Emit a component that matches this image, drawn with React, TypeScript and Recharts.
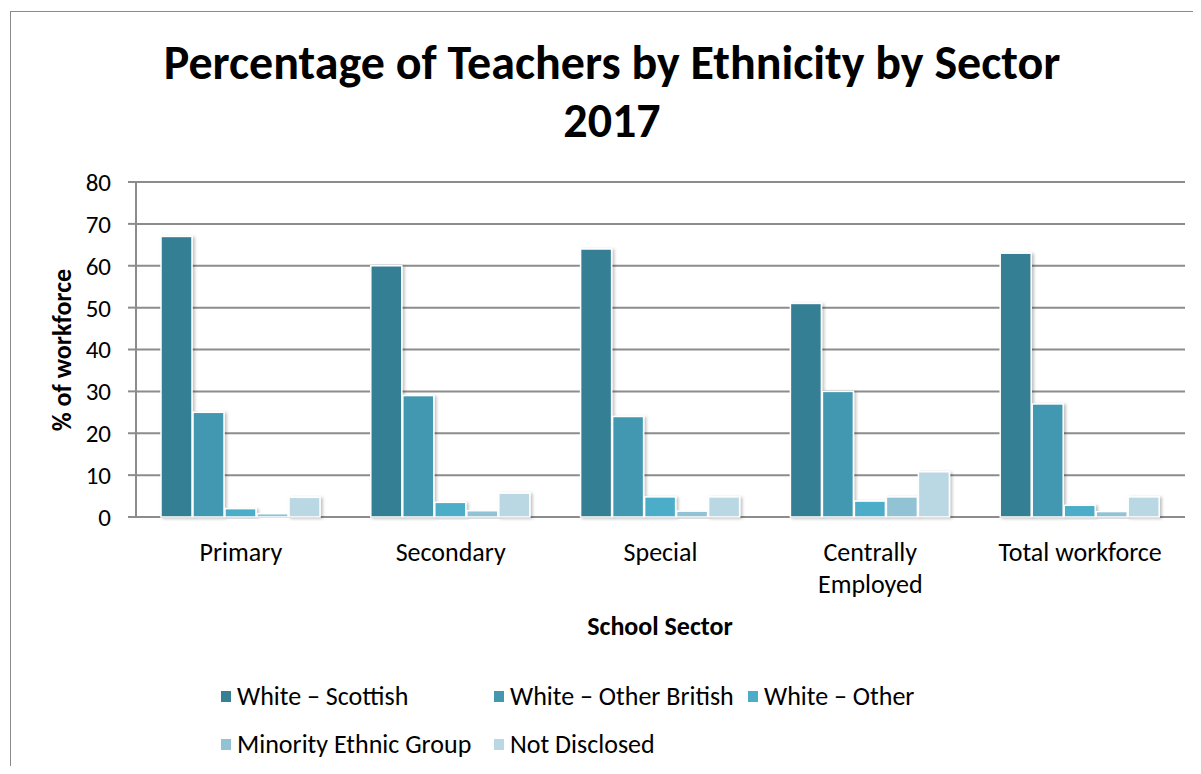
import React from "react";
import { BarChart, Bar, XAxis, YAxis, CartesianGrid } from "recharts";

const sectors = ["Primary", "Secondary", "Special", "Centrally\nEmployed", "Total workforce"];
const seriesNames = ["White – Scottish", "White – Other British", "White – Other", "Minority Ethnic Group", "Not Disclosed"];
const seriesColors = ["#367f94", "#4398b0", "#4badc7", "#92c3d5", "#bad8e3"];
const whiteScottish = [67, 60, 64, 51, 63];
const whiteOtherBritish = [25, 29, 24, 30, 27];
const whiteOther = [2, 3.5, 4.8, 3.8, 2.8];
const minorityEthnic = [0.8, 1.5, 1.4, 4.8, 1.3];
const notDisclosed = [4.7, 5.7, 4.8, 10.8, 4.8];
const yTicks = [0, 10, 20, 30, 40, 50, 60, 70, 80];
const boundaryTicks = [0, 1, 2, 3, 4, 5];

const keys = ["s0", "s1", "s2", "s3", "s4"];
const seriesValues = [whiteScottish, whiteOtherBritish, whiteOther, minorityEthnic, notDisclosed];
const data = sectors.map((name, i) => {
  const row: Record<string, string | number> = { name, idx: i + 0.5 };
  keys.forEach((k, j) => (row[k] = seriesValues[j][i]));
  return row;
});

const FONT = "Carlito, Lato, 'Open Sans', sans-serif";

function SectorTick({ x, y, payload }: any) {
  const lines = String(payload.value).split("\n");
  return (
    <text x={x} y={y} textAnchor="middle" fontFamily={FONT} fontSize={26} fill="#000">
      {lines.map((l, i) => (
        <tspan key={i} x={x} dy={i === 0 ? 36 : 32}>{l}</tspan>
      ))}
    </text>
  );
}

function BarShape(props: any) {
  const { x, y, width, height, fill } = props;
  if (!height || height <= 0) return null;
  return (
    <rect x={x} y={y} width={width} height={height} fill={fill} stroke="#fff" strokeWidth={1.5} filter="url(#barShadow)" />
  );
}

export default function App() {
  return (
    <div style={{ position: "relative", width: 1201, height: 774, margin: -8, overflow: "hidden", background: "#fff", fontFamily: FONT }}>
      <div style={{ position: "absolute", left: 10, top: 11, width: 1300, height: 900, border: "1.5px solid #8a8a8a" }} />
      <div style={{ position: "absolute", left: 0, top: 34, width: 1224, textAlign: "center", fontWeight: 700, fontSize: 48, lineHeight: "58px", color: "#000" }}>
        Percentage of Teachers by Ethnicity by Sector<br />2017
      </div>
      <div style={{ position: "absolute", left: 0, top: 0 }}>
        <BarChart width={1201} height={774} data={data} margin={{ top: 182, right: 16, bottom: 197, left: 0 }} barCategoryGap={25} barGap={1}>
          <defs>
            <filter id="barShadow" x="-20%" y="-10%" width="150%" height="130%">
              <feDropShadow dx="2" dy="1" stdDeviation="1.5" floodColor="#000" floodOpacity="0.25" />
            </filter>
          </defs>
          <CartesianGrid horizontal vertical={false} stroke="#8c8c8c" strokeWidth={2} />
          <XAxis xAxisId="edge" type="number" dataKey="idx" domain={[0, 5]} ticks={boundaryTicks} tick={false} tickSize={8} tickLine={{ stroke: "#8c8c8c", strokeWidth: 2 }} axisLine={{ stroke: "#8c8c8c", strokeWidth: 2 }} height={0} />
          <XAxis xAxisId="cat" dataKey="name" tick={<SectorTick />} tickLine={false} axisLine={false} height={60} interval={0} />
          <YAxis width={136} domain={[0, 80]} ticks={yTicks} tickSize={8} tickMargin={17} tickLine={{ stroke: "#8c8c8c", strokeWidth: 2 }} axisLine={{ stroke: "#8c8c8c", strokeWidth: 2 }} tick={{ fontFamily: FONT, fontSize: 25, fill: "#000" }} />
          {keys.map((k, j) => (
            <Bar key={k} xAxisId="cat" dataKey={k} name={seriesNames[j]} fill={seriesColors[j]} shape={<BarShape />} isAnimationActive={false} />
          ))}
        </BarChart>
      </div>
      <div style={{ position: "absolute", left: 62, top: 350, transform: "translate(-50%, -50%) rotate(-90deg)", fontWeight: 700, fontSize: 26, whiteSpace: "nowrap" }}>
        % of workforce
      </div>
      <div style={{ position: "absolute", left: 660, top: 626, transform: "translate(-50%, -50%)", fontWeight: 700, fontSize: 26, whiteSpace: "nowrap" }}>
        School Sector
      </div>
      <div style={{ position: "absolute", left: 221, top: 679, display: "grid", gridTemplateColumns: "273px 254px auto", rowGap: 14, fontSize: 26 }}>
        {seriesNames.map((n, j) => (
          <div key={n} style={{ display: "flex", alignItems: "center", height: 34, whiteSpace: "nowrap" }}>
            <span style={{ display: "inline-block", width: 10, height: 11, background: seriesColors[j], marginRight: 6 }} />
            {n}
          </div>
        ))}
      </div>
    </div>
  );
}
